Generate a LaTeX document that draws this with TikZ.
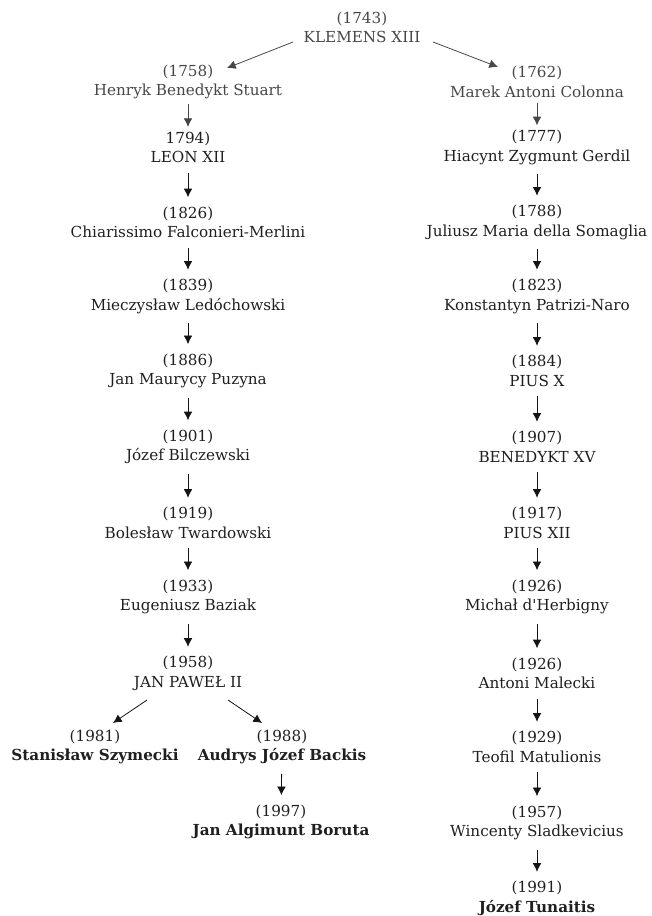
\documentclass[tikz,border=0pt]{standalone}
\usepackage{fontspec}
\setmainfont{DejaVu Serif}[Ligatures=TeXOff]
\usepackage{tikz}
\usetikzlibrary{arrows.meta}
\tikzset{
  font={\fontsize{11.4pt}{14.6pt}\selectfont}}

\begin{document}
\begin{tikzpicture}[x=0.75pt,y=-0.75pt]
\tikzstyle{every node}+=[inner xsep=1pt, inner ysep=7pt, align=center, text=black!88]
\tikzstyle{pale}=[text=black!72]
\tikzstyle{arr}=[-{Latex[length=6.5pt,width=6.5pt]}, black!92, line width=0.6pt]
\tikzstyle{palearr}=[arr, black!72]
\useasboundingbox (0,0) rectangle (651,916);
% top
\node [pale] (k1743) at (362,27.5) {(1743)\\KLEMENS XIII};
% left branch
\node [pale] (l1758) at (188,82) {(1758)\\Henryk Benedykt Stuart};
\node (l1794) at (188,147.5) {1794)\\LEON XII};
\node (l1826) at (188,222.5) {(1826)\\Chiarissimo Falconieri-Merlini};
\node (l1839) at (188,296.5) {(1839)\\Mieczysław Ledóchowski};
\node (l1886) at (188,371) {(1886)\\Jan Maurycy Puzyna};
\node (l1901) at (188,447) {(1901)\\Józef Bilczewski};
\node (l1919) at (188,523) {(1919)\\Bolesław Twardowski};
\node (l1933) at (188,597) {(1933)\\Eugeniusz Baziak};
\node (l1958) at (188,673.5) {(1958)\\JAN PAWEŁ II};
\node (l1981) at (95,747) {(1981)\\\textbf{Stanisław Szymecki}};
\node (l1988) at (282,747) {(1988)\\\textbf{Audrys Józef Backis}};
\node (l1997) at (281,822) {(1997)\\\textbf{Jan Algimunt Boruta}};
% right branch
\node [pale] (r1762) at (537,82) {(1762)\\Marek Antoni Colonna};
\node (r1777) at (537,147.5) {(1777)\\Hiacynt Zygmunt Gerdil};
\node (r1788) at (537,222.5) {(1788)\\Juliusz Maria della Somaglia};
\node (r1823) at (537,296.5) {(1823)\\Konstantyn Patrizi-Naro};
\node (r1884) at (537,371) {(1884)\\PIUS X};
\node (r1907) at (537,447) {(1907)\\BENEDYKT XV};
\node (r1917) at (537,523) {(1917)\\PIUS XII};
\node (r1926a) at (537,597) {(1926)\\Michał d'Herbigny};
\node (r1926b) at (537,673.5) {(1926)\\Antoni Malecki};
\node (r1929) at (537,747) {(1929)\\Teofil Matulionis};
\node (r1957) at (537,823) {(1957)\\Wincenty Sladkevicius};
\node (r1991) at (537,898.5) {(1991)\\\textbf{Józef Tunaitis}};
% arrows
\draw [palearr] ([shift={(-69,14.5)}]k1743.center) -- ([shift={(39,-14)}]l1758.center);
\draw [palearr] ([shift={(71,14.5)}]k1743.center) -- ([shift={(-39,-15)}]r1762.center);
\draw [palearr, shorten <=-3.5pt, shorten >=-3.5pt] (l1758) -- (l1794);
\draw [arr] (l1794) -- (l1826);
\draw [arr] (l1826) -- (l1839);
\draw [arr] (l1839) -- (l1886);
\draw [arr] (l1886) -- (l1901);
\draw [arr] (l1901) -- (l1919);
\draw [arr] (l1919) -- (l1933);
\draw [arr] (l1933) -- (l1958);
\draw [arr] ([shift={(-41,26.5)}]l1958.center) -- ([shift={(18,-24)}]l1981.center);
\draw [arr] ([shift={(40,26.5)}]l1958.center) -- ([shift={(-20,-24)}]l1988.center);
\draw [arr] (l1988) -- (l1997);
\draw [palearr, shorten <=-3.5pt, shorten >=-3.5pt] (r1762) -- (r1777);
\draw [arr] (r1777) -- (r1788);
\draw [arr] (r1788) -- (r1823);
\draw [arr] (r1823) -- (r1884);
\draw [arr] (r1884) -- (r1907);
\draw [arr] (r1907) -- (r1917);
\draw [arr] (r1917) -- (r1926a);
\draw [arr] (r1926a) -- (r1926b);
\draw [arr] (r1926b) -- (r1929);
\draw [arr] (r1929) -- (r1957);
\draw [arr] (r1957) -- (r1991);
\end{tikzpicture}
\end{document}
